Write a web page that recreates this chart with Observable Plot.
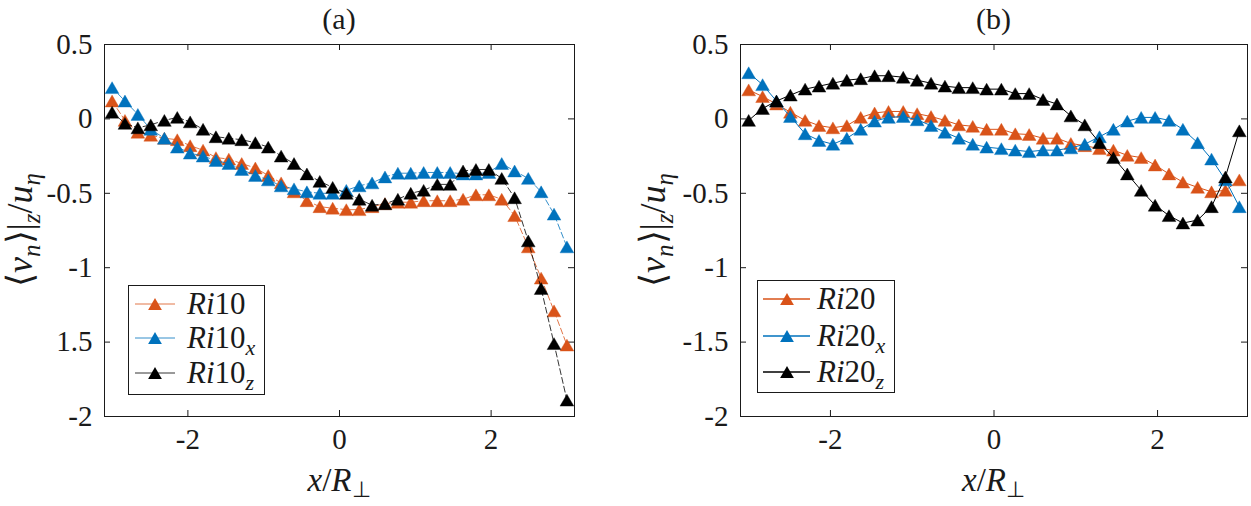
<!DOCTYPE html>
<html>
<head>
<meta charset="utf-8">
<script src="https://cdn.jsdelivr.net/npm/d3@7"></script>
<script src="https://cdn.jsdelivr.net/npm/@observablehq/plot@0.6"></script>
<style>
  html, body { margin: 0; padding: 0; background: #fff; }
  #wrap { position: relative; width: 1251px; height: 506px; overflow: hidden; font-family: 'Liberation Serif', serif; }
  #wrap > svg { position: absolute; top: 0; }
  #wrap svg text, #wrap svg tspan { font-family: 'Liberation Serif', serif; }
  #overlay { position: absolute; left: 0; top: 0; pointer-events: none; }
</style>
</head>
<body>
<div id="wrap"></div>
<script>
// Sampling positions x/R_perp shared by every profile
const X_GRID = [-3.00, -2.83, -2.66, -2.49, -2.31, -2.14, -1.97, -1.80, -1.63, -1.46, -1.29, -1.11,
                -0.94, -0.77, -0.60, -0.43, -0.26, -0.09, 0.09, 0.26, 0.43, 0.60, 0.77, 0.94,
                1.11, 1.29, 1.46, 1.63, 1.80, 1.97, 2.14, 2.31, 2.49, 2.66, 2.83, 3.00];

// Panel (a): Ri = 10
const RI10 = [0.12, -0.01, -0.09, -0.11, -0.13, -0.14, -0.18, -0.21, -0.26, -0.27, -0.30, -0.33,
              -0.38, -0.43, -0.49, -0.55, -0.59, -0.60, -0.61, -0.61, -0.59, -0.57, -0.56, -0.56,
              -0.55, -0.55, -0.55, -0.54, -0.51, -0.51, -0.54, -0.65, -0.86, -1.07, -1.29, -1.52];
const RI10_X = [0.21, 0.12, 0.03, -0.07, -0.13, -0.19, -0.23, -0.25, -0.28, -0.30, -0.34, -0.38,
                -0.41, -0.45, -0.47, -0.49, -0.50, -0.50, -0.48, -0.45, -0.43, -0.39, -0.365, -0.365,
                -0.36, -0.36, -0.36, -0.37, -0.37, -0.36, -0.30, -0.35, -0.40, -0.49, -0.64, -0.86];
const RI10_Z = [0.045, -0.03, -0.06, -0.04, -0.01, 0.01, -0.02, -0.07, -0.12, -0.13, -0.14, -0.16,
                -0.19, -0.25, -0.30, -0.37, -0.42, -0.46, -0.50, -0.54, -0.58, -0.57, -0.54, -0.50,
                -0.48, -0.44, -0.44, -0.35, -0.34, -0.34, -0.40, -0.53, -0.82, -1.14, -1.51, -1.89];

// Panel (b): Ri = 20
const RI20 = [0.195, 0.15, 0.10, 0.045, -0.01, -0.045, -0.06, -0.045, 0.01, 0.04, 0.05, 0.05,
              0.035, 0.016, -0.01, -0.04, -0.05, -0.07, -0.07, -0.10, -0.105, -0.13, -0.13, -0.165,
              -0.18, -0.20, -0.21, -0.245, -0.26, -0.31, -0.37, -0.425, -0.46, -0.49, -0.48, -0.41];
const RI20_X = [0.31, 0.23, 0.12, 0.016, -0.10, -0.145, -0.17, -0.13, -0.07, -0.015, 0.01, 0.016,
                -0.006, -0.045, -0.09, -0.13, -0.17, -0.19, -0.20, -0.21, -0.22, -0.21, -0.21, -0.195,
                -0.17, -0.12, -0.07, -0.015, 0.01, 0.01, -0.01, -0.07, -0.16, -0.27, -0.41, -0.59];
const RI20_Z = [-0.01, 0.07, 0.12, 0.16, 0.20, 0.22, 0.24, 0.26, 0.27, 0.29, 0.29, 0.28,
                0.26, 0.24, 0.22, 0.21, 0.21, 0.20, 0.20, 0.17, 0.17, 0.13, 0.10, 0.02,
                -0.04, -0.16, -0.26, -0.37, -0.48, -0.58, -0.65, -0.70, -0.68, -0.59, -0.39, -0.08];

// Axis ticks and their printed labels
const Y_TICKS = [0.5, 0, -0.5, -1, -1.5, -2];
const Y_LABELS_A = ["0.5", "0", "-0.5", "-1", "1.5", "-2"];
const Y_LABELS_B = ["0.5", "0", "-0.5", "-1", "-1.5", "-2"];
const X_TICKS = [-2, 0, 2];
const X_LABELS = ["-2", "0", "2"];

const SERIES_COLORS = ["#D95319", "#0072BD", "#000000"];
const INK = "#1a1a1a";

// Upward triangle centred on its bounding box
const triangleUp = {
  draw(context, size) {
    const s = Math.sqrt(size * 4 / Math.sqrt(3));
    const h = s * Math.sqrt(3) / 2;
    context.moveTo(0, -h / 2);
    context.lineTo(s / 2, h / 2);
    context.lineTo(-s / 2, h / 2);
    context.closePath();
  }
};

const H = 506, MT = 44, MB = 90;

function makePanel({series, yLabels, width, ml, mr, dash, lineWidth}) {
  const fw = width - ml - mr, fh = H - MT - MB;
  const yText = new Map(Y_TICKS.map((t, i) => [t, yLabels[i]]));
  const xText = new Map(X_TICKS.map((t, i) => [t, X_LABELS[i]]));
  const dataMarks = [];
  series.forEach((values, k) => {
    const rows = X_GRID.map((x, i) => ({x, v: values[i]}));
    dataMarks.push(Plot.line(rows, {x: "x", y: "v", stroke: SERIES_COLORS[k],
      strokeWidth: lineWidth, strokeDasharray: dash}));
    dataMarks.push(Plot.dot(rows, {x: "x", y: "v", symbol: triangleUp, r: 5.1,
      fill: SERIES_COLORS[k], stroke: SERIES_COLORS[k], strokeWidth: 0.4}));
  });
  const tickStyle = {stroke: INK, strokeWidth: 1};
  return Plot.plot({
    width, height: H,
    marginTop: MT, marginBottom: MB, marginLeft: ml, marginRight: mr,
    x: {domain: [-3.1, 3.1]},
    y: {domain: [-2, 0.5]},
    style: "font-family: 'Liberation Serif', serif; font-size: 29px; color: #1a1a1a; background: transparent; overflow: visible;",
    marks: [
      // inward ticks on all four sides
      Plot.tickY(Y_TICKS, {y: d => d, insetRight: fw - 6, ...tickStyle}),
      Plot.tickY(Y_TICKS, {y: d => d, insetLeft: fw - 6, ...tickStyle}),
      Plot.tickX(X_TICKS, {x: d => d, insetTop: fh - 6, ...tickStyle}),
      Plot.tickX(X_TICKS, {x: d => d, insetBottom: fh - 6, ...tickStyle}),
      Plot.axisY(Y_TICKS, {tickSize: 0, tickPadding: 12, tickFormat: d => yText.get(d), label: null}),
      Plot.axisX(X_TICKS, {tickSize: 0, tickPadding: 12, tickFormat: d => xText.get(d), label: null}),
      ...dataMarks,
      Plot.frame({stroke: INK, strokeWidth: 1})
    ]
  });
}

// Write a run of text pieces (italic / subscript) into an SVG text element
function mathText(sel, parts, size, subSize, drop) {
  let shifted = false;
  parts.forEach(p => {
    const ts = sel.append("tspan").text(p.t)
      .attr("font-style", p.it ? "italic" : "normal")
      .attr("font-size", p.sub ? subSize : size);
    if (p.sub && !shifted) { ts.attr("dy", drop); shifted = true; }
    else if (!p.sub && shifted) { ts.attr("dy", -drop); shifted = false; }
  });
}

const Y_LABEL_PARTS = [
  {t: "\u27E8"}, {t: "v", it: true}, {t: "n", it: true, sub: true}, {t: "\u27E9"},
  {t: "|"}, {t: "z", it: true, sub: true}, {t: "/"}, {t: "u", it: true}, {t: "\u03B7", it: true, sub: true}
];
const X_LABEL_PARTS = [{t: "x", it: true}, {t: "/"}, {t: "R", it: true}, {t: "\u22A5", sub: true}];

function decorate(svg, {title, cx, ylx}) {
  const s = d3.select(svg);
  s.append("text").attr("x", cx).attr("y", 29).attr("text-anchor", "middle")
    .attr("font-size", 30).attr("fill", INK).text(title);
  const xl = s.append("text").attr("x", cx).attr("y", 491).attr("text-anchor", "middle")
    .attr("fill", INK);
  mathText(xl, X_LABEL_PARTS, 33, 22, 6);
  const yl = s.append("text").attr("transform", `translate(${ylx},230) rotate(-90)`)
    .attr("text-anchor", "middle").attr("fill", INK);
  mathText(yl, Y_LABEL_PARTS, 36, 25, 8);
}

const wrap = document.getElementById("wrap");

const panelA = makePanel({series: [RI10, RI10_X, RI10_Z], yLabels: Y_LABELS_A,
  width: 625, ml: 104, mr: 51, dash: "6,3", lineWidth: 0.8});
panelA.style.left = "0px";
decorate(panelA, {title: "(a)", cx: 104 + (625 - 104 - 51) / 2, ylx: 32});
wrap.appendChild(panelA);

const panelB = makePanel({series: [RI20, RI20_X, RI20_Z], yLabels: Y_LABELS_B,
  width: 626, ml: 115, mr: 4, dash: null, lineWidth: 1});
panelB.style.left = "625px";
decorate(panelB, {title: "(b)", cx: 115 + (626 - 115 - 4) / 2, ylx: 40});
wrap.appendChild(panelB);

// Legends
const overlay = d3.select(wrap).append("svg").attr("id", "overlay")
  .attr("width", 1251).attr("height", 506);

function legend({box, rows, lineX, markX, textX, base, lineWidth}) {
  overlay.append("rect").attr("x", box[0] + 0.5).attr("y", box[1] + 0.5)
    .attr("width", box[2]).attr("height", box[3])
    .attr("fill", "#fff").attr("stroke", INK).attr("stroke-width", 1);
  const tri = d3.symbol(triangleUp, Math.PI * 5.1 * 5.1)();
  rows.forEach((yc, k) => {
    overlay.append("line").attr("x1", lineX[0]).attr("x2", lineX[1]).attr("y1", yc).attr("y2", yc)
      .attr("stroke", SERIES_COLORS[k]).attr("stroke-width", lineWidth);
    overlay.append("path").attr("d", tri).attr("transform", `translate(${markX},${yc})`)
      .attr("fill", SERIES_COLORS[k]);
    const t = overlay.append("text").attr("x", textX).attr("y", yc + 10).attr("fill", INK);
    const parts = [{t: "Ri", it: true}, {t: base}];
    if (k === 1) parts.push({t: "x", it: true, sub: true});
    if (k === 2) parts.push({t: "z", it: true, sub: true});
    mathText(t, parts, 31, 22, 7);
  });
}

legend({box: [128, 285, 136, 109], rows: [304, 338, 373], lineX: [135, 175], markX: 155,
  textX: 187, base: "10", lineWidth: 0.8});
legend({box: [757, 280, 137, 112], rows: [299, 336, 372], lineX: [763, 810], markX: 787,
  textX: 817, base: "20", lineWidth: 1.3});
</script>
</body>
</html>
